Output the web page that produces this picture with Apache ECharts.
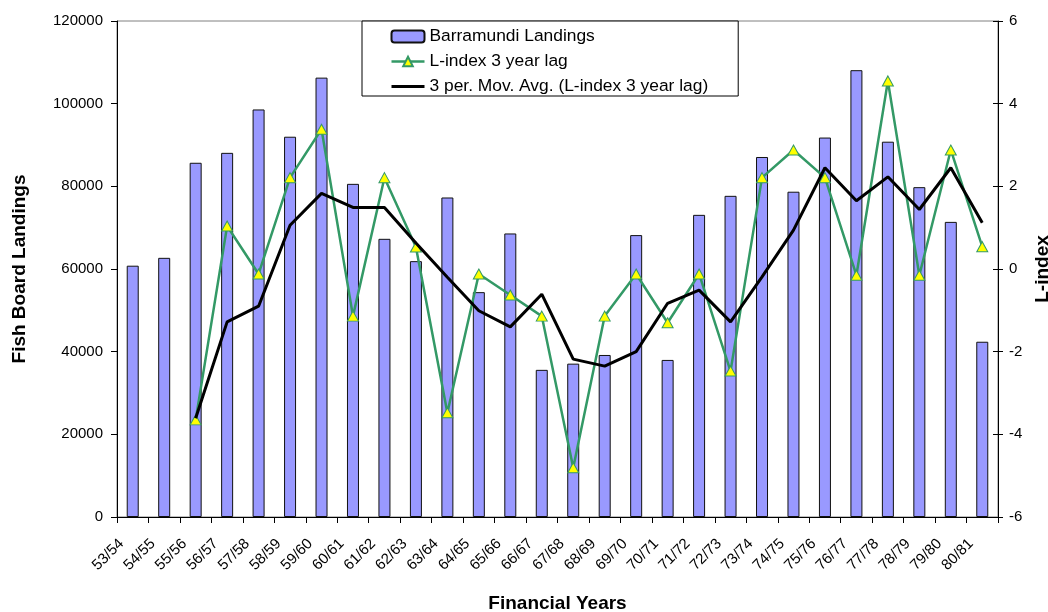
<!DOCTYPE html>
<html>
<head>
<meta charset="utf-8">
<title>Barramundi Landings and L-index</title>
<script src="https://cdn.jsdelivr.net/npm/echarts@6/dist/echarts.min.js"></script>
<style>
  html, body { margin: 0; padding: 0; background: #ffffff; }
  #chart { width: 1048px; height: 612px; }
</style>
</head>
<body>
<div id="chart"></div>
<script>
// Financial years (July–June)
const years = [
  '53/54', '54/55', '55/56', '56/57', '57/58', '58/59', '59/60', '60/61',
  '61/62', '62/63', '63/64', '64/65', '65/66', '66/67', '67/68', '68/69',
  '69/70', '70/71', '71/72', '72/73', '73/74', '74/75', '75/76', '76/77',
  '77/78', '78/79', '79/80', '80/81'
];

// Fish Board barramundi landings
const landings = [
  60800, 62700, 85700, 88100, 98600, 92000, 106300, 80600,
  67300, 61900, 77300, 54400, 68600, 35600, 37100, 39200,
  68200, 38000, 73100, 77700, 87100, 78700, 91800, 108100,
  90800, 79800, 71400, 42400
];

// L-index with a 3 year lag
const lIndex = [
  null, null, -3.65, 1.04, -0.12, 2.21, 3.38, -1.14,
  2.21, 0.53, -3.48, -0.12, -0.63, -1.14, -4.81, -1.14,
  -0.12, -1.30, -0.12, -2.47, 2.21, 2.88, 2.21, -0.15,
  4.55, -0.15, 2.88, 0.54
];

// 3 period moving average of the lagged L-index
const movAvg = [
  null, null, -3.61, -1.28, -0.90, 1.06, 1.83, 1.49,
  1.49, 0.63, -0.20, -1.01, -1.40, -0.61, -2.18, -2.35,
  -2.00, -0.83, -0.51, -1.28, -0.19, 0.94, 2.45, 1.65,
  2.23, 1.44, 2.45, 1.12
];

const leftTicks = { min: 0, max: 120000, interval: 20000 };
const rightTicks = { min: -6, max: 6, interval: 2 };

const FONT = "'Liberation Sans', Arial, Helvetica, sans-serif";
const chart = echarts.init(document.getElementById('chart'), null, { renderer: 'canvas' });

const option = {
  backgroundColor: '#ffffff',
  animation: false,
  textStyle: { fontFamily: FONT, color: '#000' },
  grid: {
    left: 117, right: 50, top: 21, bottom: 95,
    outerBoundsMode: 'none',
    containLabel: false,
    show: true, borderColor: '#808080', borderWidth: 1, backgroundColor: 'transparent'
  },
  legend: {
    orient: 'vertical',
    left: 362, top: 21,
    padding: [7, 30, 1, 28],
    itemGap: 8,
    itemWidth: 33,
    itemHeight: 12,
    backgroundColor: '#ffffff',
    borderColor: '#000000',
    borderWidth: 1,
    borderRadius: 0,
    textStyle: { fontFamily: FONT, fontSize: 17.4, color: '#000', lineHeight: 17 },
    data: [
      'Barramundi Landings',
      { name: 'L-index 3 year lag', lineStyle: { width: 2.5, color: '#339966' } },
      {
        name: '3 per. Mov. Avg. (L-index 3 year lag)',
        itemStyle: { opacity: 0 },
        lineStyle: { width: 3, color: '#000000' }
      }
    ]
  },
  xAxis: {
    type: 'category',
    data: years,
    boundaryGap: true,
    name: 'Financial Years',
    nameLocation: 'middle',
    nameGap: 77,
    nameTextStyle: { fontFamily: FONT, fontSize: 19, fontWeight: 'bold', color: '#000' },
    axisLine: { show: true, lineStyle: { color: '#000', width: 1 } },
    axisTick: { show: true, inside: false, length: 6, lineStyle: { color: '#000' } },
    axisLabel: {
      interval: 0, rotate: 45, fontSize: 15, color: '#000', fontFamily: FONT,
      margin: 13, padding: [0, 16, 0, 0]
    },
    splitLine: { show: false }
  },
  yAxis: [
    {
      type: 'value',
      position: 'left',
      min: leftTicks.min, max: leftTicks.max, interval: leftTicks.interval,
      name: 'Fish Board Landings',
      nameLocation: 'middle',
      nameRotate: 90,
      nameGap: 88,
      nameTextStyle: { fontFamily: FONT, fontSize: 19, fontWeight: 'bold', color: '#000' },
      axisLine: { show: true, lineStyle: { color: '#000', width: 1 } },
      axisTick: { show: true, inside: false, length: 6, lineStyle: { color: '#000' } },
      axisLabel: {
        fontSize: 15, color: '#000', fontFamily: FONT, margin: 14,
        formatter: function (v) { return String(v); }
      },
      splitLine: { show: false }
    },
    {
      type: 'value',
      position: 'right',
      min: rightTicks.min, max: rightTicks.max, interval: rightTicks.interval,
      name: 'L-index',
      nameLocation: 'middle',
      nameRotate: 90,
      nameGap: 34,
      nameTextStyle: { fontFamily: FONT, fontSize: 19, fontWeight: 'bold', color: '#000' },
      axisLine: { show: true, onZero: false, lineStyle: { color: '#000', width: 1 } },
      axisTick: { show: true, inside: false, length: 5, lineStyle: { color: '#000' } },
      axisLabel: { fontSize: 15, color: '#000', fontFamily: FONT, margin: 11 },
      splitLine: { show: false }
    },
    {
      // inner half of the crossing ticks on the right axis
      type: 'value',
      position: 'right',
      min: rightTicks.min, max: rightTicks.max, interval: rightTicks.interval,
      axisLine: { show: false },
      axisTick: { show: true, inside: true, length: 5, lineStyle: { color: '#000' } },
      axisLabel: { show: false },
      splitLine: { show: false }
    }
  ],
  series: [
    {
      name: 'Barramundi Landings',
      type: 'bar',
      yAxisIndex: 0,
      data: landings,
      barWidth: 12,
      itemStyle: { color: '#9999FF', borderColor: '#111111', borderWidth: 1 },
      z: 2
    },
    {
      name: 'L-index 3 year lag',
      type: 'line',
      yAxisIndex: 1,
      data: lIndex,
      connectNulls: false,
      symbol: 'triangle',
      symbolSize: [11, 10],
      lineStyle: { color: '#339966', width: 2.5 },
      itemStyle: { color: '#FFFF00', borderColor: '#339966', borderWidth: 1 },
      z: 3
    },
    {
      name: '3 per. Mov. Avg. (L-index 3 year lag)',
      type: 'line',
      yAxisIndex: 1,
      data: movAvg,
      symbol: 'none',
      lineStyle: { color: '#000000', width: 3 },
      itemStyle: { color: '#000000' },
      z: 4
    }
  ]
};

chart.setOption(option);
</script>
</body>
</html>
